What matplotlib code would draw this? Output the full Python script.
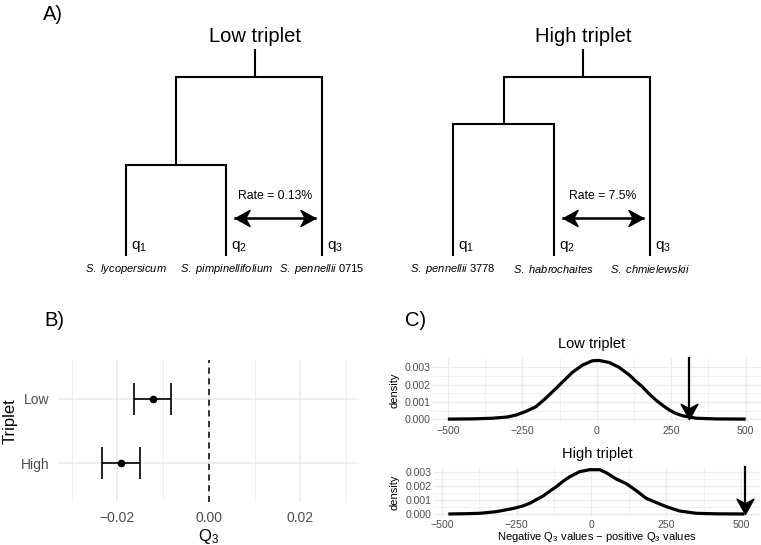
import numpy as np
import matplotlib
matplotlib.use("Agg")
import matplotlib.pyplot as plt
from matplotlib.path import Path
from matplotlib.transforms import Affine2D

plt.rcParams["font.family"] = ["Liberation Sans", "DejaVu Sans"]
plt.rcParams["mathtext.fontset"] = "custom"
plt.rcParams["mathtext.rm"] = "Liberation Sans"
plt.rcParams["mathtext.it"] = "Liberation Sans:italic"

# --- A) the two triplet trees ---
tree_titles = ["Low triplet", "High triplet"]
tree_species = [["S. lycopersicum", "S. pimpinellifolium", "S. pennellii"],
                ["S. pennellii", "S. habrochaites", "S. chmielewskii"]]
tree_suffix = [["", "", "0715"], ["3778", "", ""]]
leaf_x = [0.0, 1.025, 2.0]
inner_height = [0.505, 0.735]     # (q1,q2) node, root at 1
root_stem_x = [1.32, 1.32]
rates = ["0.13%", "7.5%"]

# --- B) Q3 estimates ---
triplets = ["High", "Low"]
q3_est = [-0.0192, -0.0123]
q3_lo = [-0.0233, -0.0163]
q3_hi = [-0.0150, -0.0082]
q3_ticks = [-0.02, 0.0, 0.02]
q3_ticklabels = ["\u22120.02", "0.00", "0.02"]

# --- C) null distributions ---
low_x = [-500, -420, -350, -300, -270, -240, -205, -175, -145, -116, -82, -48,
         -15, 8, 42, 75, 109, 130, 154, 175, 199, 220, 244, 265, 288, 333, 400, 500]
low_dens = [0.00001, 0.00002, 0.00006, 0.00013, 0.00025, 0.00044, 0.00072,
            0.00116, 0.00165, 0.00214, 0.00271, 0.00313, 0.00338, 0.0034,
            0.00328, 0.003, 0.00256, 0.00222, 0.00186, 0.00148, 0.0011,
            0.00082, 0.00053, 0.00034, 0.0002, 0.00006, 0.00002, 0.00001]
high_x = [-478, -420, -372, -317, -261, -230, -206, -185, -161, -140, -117, -95,
          -72, -39, -6, 28, 50, 83, 117, 150, 183, 217, 250, 294, 350, 420, 511]
high_dens = [0.0, 0.00002, 0.00005, 0.00017, 0.0004, 0.00057, 0.00077, 0.00102,
             0.0013, 0.00163, 0.00197, 0.00235, 0.00269, 0.00305, 0.00319,
             0.00319, 0.00297, 0.00252, 0.00218, 0.00168, 0.00113, 0.00082,
             0.00053, 0.00022, 0.00005, 0.00001, 0.0]
low_obs = 310
high_obs = 513

W, H = 761, 545
fig = plt.figure(figsize=(W / 100, H / 100), dpi=100)

def px_axes(x0, y0, x1, y1):
    return fig.add_axes([x0 / W, 1 - y1 / H, (x1 - x0) / W, (y1 - y0) / H])

def px_text(x, y, s, **kw):
    fig.text(x / W, 1 - y / H, s, **kw)

def stealth(angle):
    # arrow head, tip at the origin, pointing up before rotation
    verts = [(0, 0), (-0.55, -1), (0, -0.7), (0.55, -1), (0, 0)]
    codes = [Path.MOVETO, Path.LINETO, Path.LINETO, Path.LINETO, Path.CLOSEPOLY]
    return Path(verts, codes).transformed(Affine2D().rotate_deg(angle))

grid_col = "#ebebeb"
tick_col = "#4d4d4d"

# ---------------- panel A ----------------
px_text(43, 14, "A)", size=14.5, va="center")
for i, x0 in enumerate([125.7, 453.3]):
    ax = px_axes(x0, 76.7, x0 + 196.3, 255)
    ax.set_xlim(0, 2)
    ax.set_ylim(0, 1)
    ax.axis("off")
    kw = dict(color="black", lw=1.5, clip_on=False, solid_joinstyle="miter")
    h = inner_height[i]
    mid = (leaf_x[0] + leaf_x[1]) / 2
    ax.plot([leaf_x[0], leaf_x[0], leaf_x[1], leaf_x[1]], [0, h, h, 0], **kw)
    ax.plot([mid, mid, leaf_x[2], leaf_x[2]], [h, 1, 1, 0], **kw)
    ax.plot([root_stem_x[i]] * 2, [1, 1.15], **kw)
    ax.text(root_stem_x[i], 1.224, tree_titles[i], ha="center", va="center", size=14.5)

    # rate arrow between q2 and q3
    a0, a1, ay = leaf_x[1] + 0.09, leaf_x[2] - 0.07, 0.206
    ax.plot([a0, a1], [ay, ay], color="black", lw=1.8, clip_on=False)
    ax.plot([a0], [ay], marker=stealth(90), ms=21, color="black", clip_on=False)
    ax.plot([a1], [ay], marker=stealth(-90), ms=21, color="black", clip_on=False)
    ax.text((a0 + a1) / 2, 0.331, "Rate = " + rates[i], ha="center", va="center", size=8.8)

    for j in range(3):
        ax.text(leaf_x[j] + 0.05, 0.045, "q$_{%d}$" % (j + 1), ha="left", va="center", size=11)
        name = "$\\mathit{" + tree_species[i][j].replace(" ", "\\ ") + "}$"
        if tree_suffix[i][j]:
            name += " " + tree_suffix[i][j]
        ax.text(leaf_x[j], -0.08, name, ha="center", va="center", size=8)

# ---------------- panel B ----------------
px_text(44, 320, "B)", size=14.5, va="center")
axb = px_axes(58.3, 360, 359.3, 502)
ypos = np.arange(1, len(triplets) + 1)
est = np.array(q3_est)
axb.errorbar(est, ypos, xerr=[est - np.array(q3_lo), np.array(q3_hi) - est],
             fmt="o", color="black", ms=4.5, elinewidth=1.2, capsize=11.8,
             capthick=1.2, zorder=3)
axb.axvline(0, color="black", lw=1.1, ls=(0, (4, 3)), zorder=2)
axb.set_xlim(-0.0329, 0.0329)
axb.set_ylim(0.4, 2.6)
axb.set_yticks(ypos, triplets)
axb.set_xticks(q3_ticks, q3_ticklabels)
axb.set_xticks([-0.03, -0.01, 0.01, 0.03], minor=True)
axb.grid(True, which="major", color=grid_col, lw=1.1)
axb.grid(True, which="minor", axis="x", color=grid_col, lw=0.6)
axb.set_axisbelow(True)
for s in axb.spines.values():
    s.set_visible(False)
axb.tick_params(which="both", length=0, pad=6.5, labelsize=10, labelcolor=tick_col)
px_text(10, 421, "Triplet", size=12, rotation=90, ha="center", va="center")
px_text(208, 536, "Q$_3$", size=12, ha="center", va="center")

# ---------------- panel C ----------------
px_text(405, 320, "C)", size=14.5, va="center")
panels = [(low_x, low_dens, low_obs, "Low triplet", (433, 357.5, 760.6, 422.2), 344, 592),
          (high_x, high_dens, high_obs, "High triplet", (433.5, 467.5, 759.8, 516.2), 454, 597)]
for xs, ds, obs, title, box, ty, tx in panels:
    ax = px_axes(*box)
    xmin, xmax = min(xs), max(max(xs), obs)
    pad = 0.05 * (xmax - xmin)
    ax.set_xlim(xmin - pad, xmax + pad)
    dmax = max(ds)
    ax.set_ylim(-0.05 * dmax, 1.05 * dmax)
    ax.plot(xs, ds, color="black", lw=2.3, solid_capstyle="butt")
    ytop = ax.get_ylim()[1]
    ax.plot([obs, obs], [ytop, 0.0002], color="black", lw=1.6, clip_on=False)
    ax.plot([obs], [0], marker=stealth(180), ms=22, color="black", clip_on=False)
    ax.set_xticks([-500, -250, 0, 250, 500])
    ax.set_xticks([-375, -125, 125, 375], minor=True)
    ax.set_yticks([0, 0.001, 0.002, 0.003], ["0.000", "0.001", "0.002", "0.003"])
    ax.set_yticks([0.0005, 0.0015, 0.0025], minor=True)
    ax.grid(True, which="major", color=grid_col, lw=0.9)
    ax.grid(True, which="minor", color=grid_col, lw=0.5)
    ax.set_axisbelow(True)
    for s in ax.spines.values():
        s.set_visible(False)
    ax.tick_params(which="both", length=0, labelsize=7.6, labelcolor=tick_col)
    ax.tick_params(axis="x", pad=3)
    ax.tick_params(axis="y", pad=1.5)
    px_text(395, (box[1] + box[3]) / 2, "density", size=8, rotation=90,
            ha="center", va="center")
    px_text(tx, ty, title, size=10.5, ha="center", va="center")

px_text(597, 537.5, "Negative Q$_3$ values \u2212 positive Q$_3$ values",
        size=8, ha="center", va="center")

fig.savefig("out.png", dpi=100)
